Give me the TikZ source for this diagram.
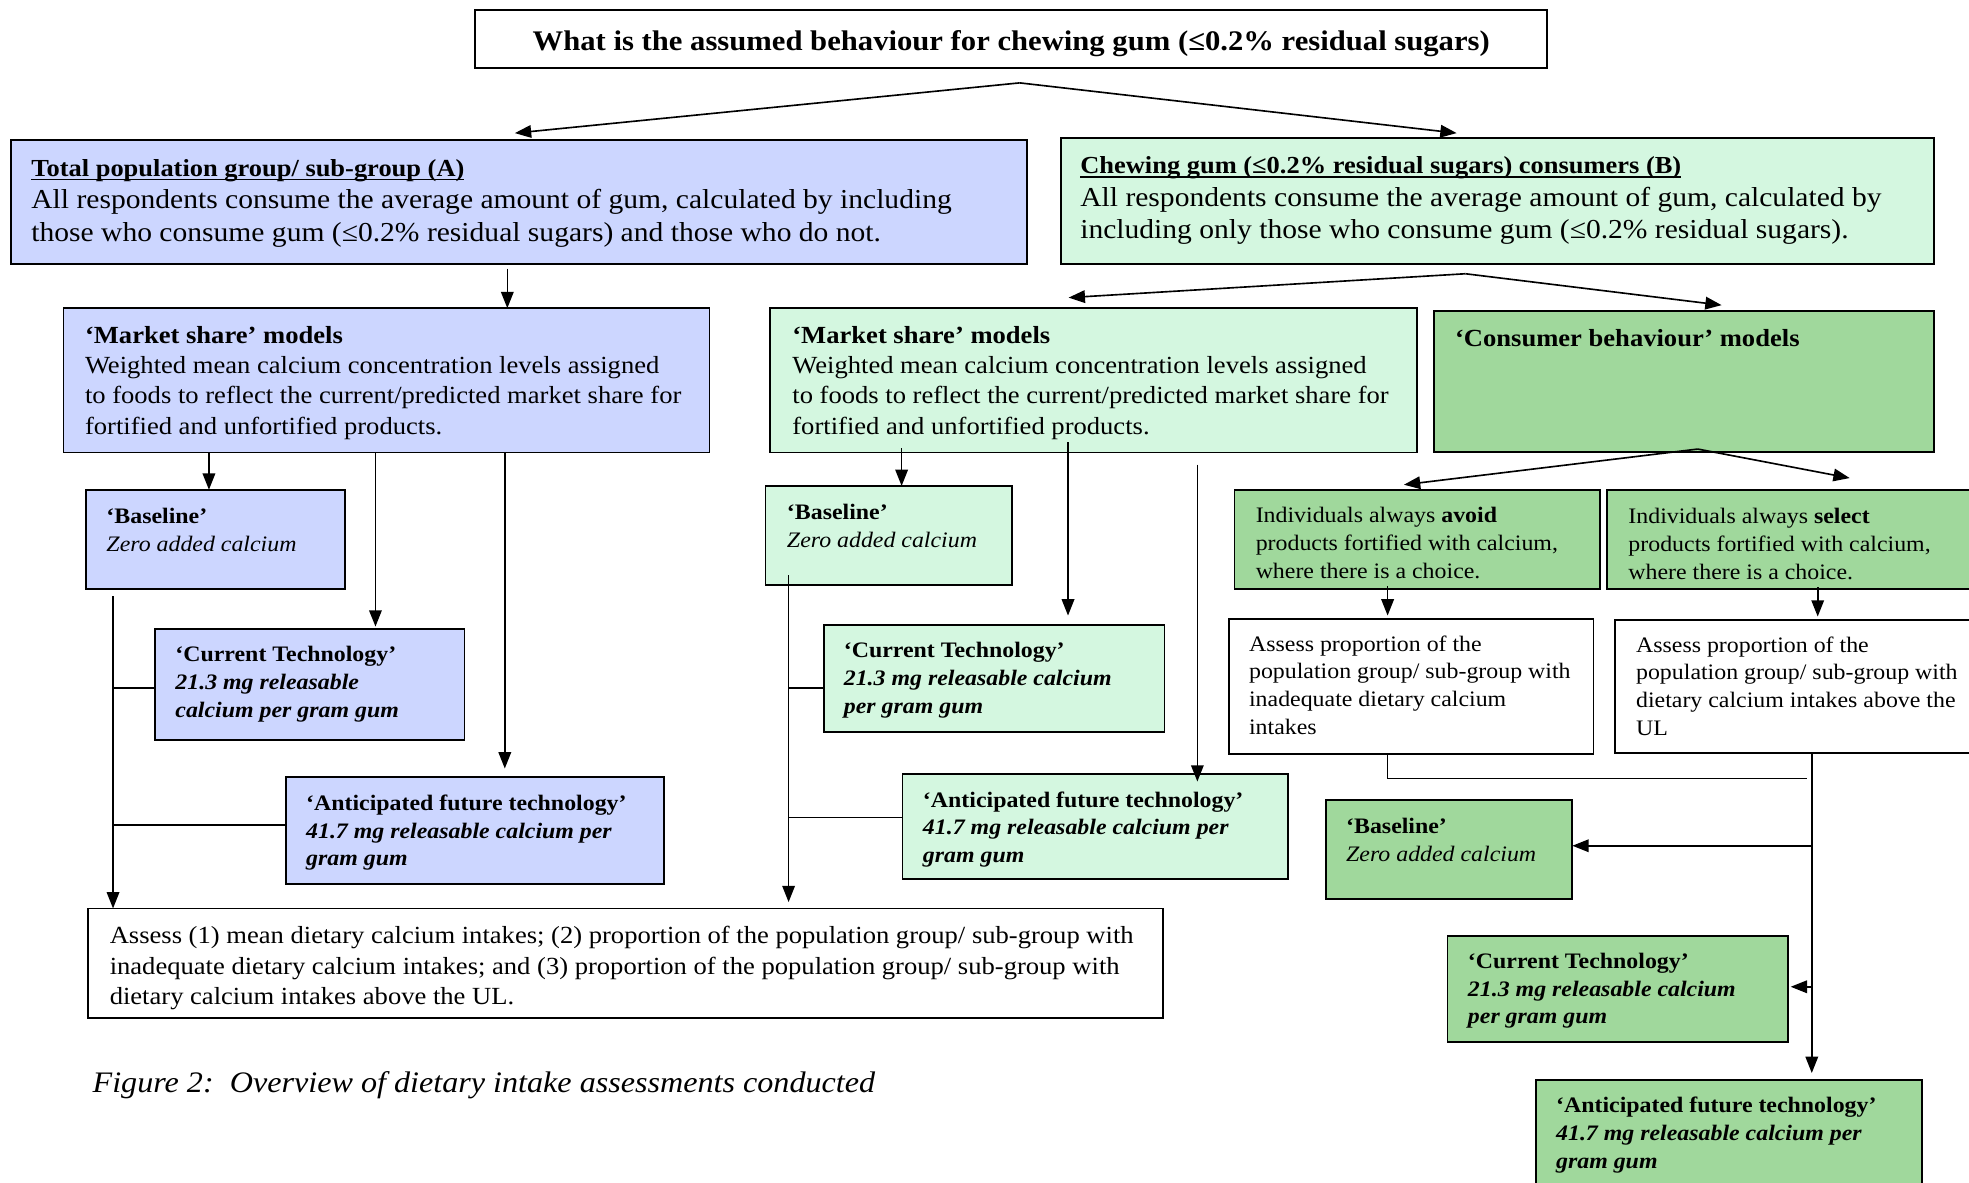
\documentclass[tikz,border=0pt]{standalone}
\usepackage{fontspec}
\setmainfont{Liberation Serif}[FakeStretch=1.08]
\usetikzlibrary{arrows.meta}
\definecolor{blueA}{RGB}{204,214,255}
\definecolor{greenL}{RGB}{212,247,224}
\definecolor{greenD}{RGB}{160,216,156}
\newsavebox\ulbox
\newcommand\myul[1]{\sbox\ulbox{#1}\rlap{\vrule width\wd\ulbox height -1.6pt depth 3pt}\usebox\ulbox}
\newcommand\fsz[2]{\fontsize{#1}{#2}\selectfont}
\newcommand\bi[1]{\textbf{\textit{#1}}}
\tikzset{
  bx/.style={draw=black, line width=1.4pt, rectangle, anchor=north west, inner sep=0pt, outer sep=0pt},
  tx/.style={anchor=north west, inner sep=0pt, outer sep=0pt, align=left},
  big/.style={font=\fsz{21.8}{25.7}},
  mid/.style={font=\fsz{19.6}{24}},
  sml/.style={font=\fsz{17.6}{22.1}},
  arr/.style={line width=1.3pt, -{Triangle[length=13pt,width=10pt]}},
  ln/.style={line width=1.3pt}
}
\begin{document}
\begin{tikzpicture}[x=1pt,y=-1pt]
\clip (0,0) rectangle (1568,942);
\fill[white] (0,0) rectangle (1568,942);

% ---------- boxes ----------
\node[bx, fill=white, minimum width=854pt, minimum height=46.4pt] (title) at (378,8) {};
\node[bx, fill=blueA, minimum width=809pt, minimum height=99pt] (A) at (9,111.5) {};
\node[bx, fill=greenL, minimum width=695pt, minimum height=100pt] (B) at (845,110) {};
\node[bx, fill=blueA, minimum width=514.5pt, minimum height=115pt] (msA) at (50.5,245.4) {};
\node[bx, fill=greenL, minimum width=515pt, minimum height=115pt] (msB) at (613.4,245.4) {};
\node[bx, fill=greenD, minimum width=398.2pt, minimum height=112.5pt] (cons) at (1141.8,247.7) {};
\node[bx, fill=blueA, minimum width=206.3pt, minimum height=79pt] (baseA) at (68.7,390) {};
\node[bx, fill=blueA, minimum width=246.4pt, minimum height=88pt] (curA) at (123.4,501) {};
\node[bx, fill=blueA, minimum width=301pt, minimum height=85pt] (antA) at (228,619) {};
\node[bx, fill=greenL, minimum width=196.4pt, minimum height=79pt] (baseB) at (609.6,387) {};
\node[bx, fill=greenL, minimum width=271.3pt, minimum height=85.3pt] (curB) at (656,497.7) {};
\node[bx, fill=greenL, minimum width=307pt, minimum height=83.3pt] (antB) at (718.7,616.4) {};
\node[bx, fill=greenD, minimum width=291pt, minimum height=79pt] (avoid) at (983,390) {};
\node[bx, fill=greenD, minimum width=300pt, minimum height=79.3pt] (select) at (1279.6,390) {};
\node[bx, fill=white, minimum width=290.4pt, minimum height=107.3pt] (as1) at (978.5,493.2) {};
\node[bx, fill=white, minimum width=300pt, minimum height=106pt] (as2) at (1285.8,493.5) {};
\node[bx, fill=greenD, minimum width=195.9pt, minimum height=79.1pt] (baseC) at (1056.2,637.1) {};
\node[bx, fill=greenD, minimum width=271.3pt, minimum height=84.9pt] (curC) at (1152.7,745.1) {};
\node[bx, fill=greenD, minimum width=307.2pt, minimum height=100pt] (antC) at (1223.4,860) {};
\node[bx, fill=white, minimum width=856pt, minimum height=87.1pt] (assM) at (70.1,723.4) {};

% ---------- texts ----------
\node[anchor=base, inner sep=0pt, font=\fsz{22.6}{26}\bfseries] (titleT) at (805.3,40) {What is the assumed behaviour for chewing gum (≤0.2\% residual sugars)};
\node[tx, big] (AT) at (25,127.2) {{\fsz{19.5}{25.7}\myul{\textbf{Total population group/ sub-group (A)}}}\\
All respondents consume the average amount of gum, calculated by including\\
those who consume gum (≤0.2\% residual sugars) and those who do not.};
\node[tx, big] (BT) at (860.3,125) {{\fsz{19.5}{25.7}\myul{\textbf{Chewing gum (≤0.2\% residual sugars) consumers (B)}}}\\
All respondents consume the average amount of gum, calculated by\\
including only those who consume gum (≤0.2\% residual sugars).};
\node[tx, mid] (msAT) at (67.7,260.1) {\textbf{‘Market share’ models}\\
Weighted mean calcium concentration levels assigned\\
to foods to reflect the current/predicted market share for\\
fortified and unfortified products.};
\node[tx, mid] (msBT) at (631,260.1) {\textbf{‘Market share’ models}\\
Weighted mean calcium concentration levels assigned\\
to foods to reflect the current/predicted market share for\\
fortified and unfortified products.};
\node[tx, mid] (consT) at (1158.7,262.6) {\textbf{‘Consumer behaviour’ models}};
\node[tx, sml] (baseAT) at (84.8,404.5) {\textbf{‘Baseline’}\\ \textit{Zero added calcium}};
\node[tx, sml] (curAT) at (139.7,514.9) {\textbf{‘Current Technology’}\\ \bi{21.3 mg releasable}\\ \bi{calcium per gram gum}};
\node[tx, sml] (antAT) at (243.8,632.9) {\textbf{‘Anticipated future technology’}\\ \bi{41.7 mg releasable calcium per}\\ \bi{gram gum}};
\node[tx, sml] (baseBT) at (626.7,401.5) {\textbf{‘Baseline’}\\ \textit{Zero added calcium}};
\node[tx, sml] (curBT) at (672,511.6) {\textbf{‘Current Technology’}\\ \bi{21.3 mg releasable calcium}\\ \bi{per gram gum}};
\node[tx, sml] (antBT) at (735,630.3) {\textbf{‘Anticipated future technology’}\\ \bi{41.7 mg releasable calcium per}\\ \bi{gram gum}};
\node[tx, sml] (avoidT) at (1000,403.9) {Individuals always \textbf{avoid}\\ products fortified with calcium,\\ where there is a choice.};
\node[tx, sml] (selectT) at (1296.8,404.7) {Individuals always \textbf{select}\\ products fortified with calcium,\\ where there is a choice.};
\node[tx, sml] (as1T) at (994.7,506.1) {Assess proportion of the\\ population group/ sub-group with\\ inadequate dietary calcium\\ intakes};
\node[tx, sml] (as2T) at (1302.9,506.9) {Assess proportion of the\\ population group/ sub-group with\\ dietary calcium intakes above the\\ UL};
\node[tx, sml] (baseCT) at (1072,651.4) {\textbf{‘Baseline’}\\ \textit{Zero added calcium}};
\node[tx, sml] (curCT) at (1169,758.9) {\textbf{‘Current Technology’}\\ \bi{21.3 mg releasable calcium}\\ \bi{per gram gum}};
\node[tx, sml] (antCT) at (1239.2,873.9) {\textbf{‘Anticipated future technology’}\\ \bi{41.7 mg releasable calcium per}\\ \bi{gram gum}};
\node[tx, font=\fsz{19.6}{24.2}] (assMT) at (87.4,737.7) {Assess (1) mean dietary calcium intakes; (2) proportion of the population group/ sub-group with\\
inadequate dietary calcium intakes; and (3) proportion of the population group/ sub-group with\\
dietary calcium intakes above the UL.};
\node[anchor=base west, inner sep=0pt, font=\fsz{23.7}{26}\itshape] (cap) at (73.6,870) {Figure 2:\ \ Overview of dietary intake assessments conducted};

% ---------- connectors ----------
\coordinate (s0) at (812,66);
\coordinate (tA) at (410,106);
\coordinate (tB) at (1160,106);
\draw[arr] (s0) -- (tA);
\draw[arr] (s0) -- (tB);

\coordinate (a1) at (404,214);
\draw[arr] (a1) -- (a1 |- msA.north);

\coordinate (s1) at (1167,218);
\coordinate (tm) at (851,237);
\coordinate (tc) at (1371,243);
\draw[arr] (s1) -- (tm);
\draw[arr] (s1) -- (tc);

% market share A
\coordinate (gA1) at (166.4,0);
\coordinate (gA2) at (299,0);
\coordinate (gA3) at (402,0);
\draw[arr] (gA1 |- msA.south) -- (gA1 |- baseA.north);
\draw[arr, shorten >=2pt] (gA2 |- msA.south) -- (gA2 |- curA.north);
\draw[arr, shorten >=7pt] (gA3 |- msA.south) -- (gA3 |- antA.north);
\coordinate (busA) at (90,475);
\draw[arr] (busA) -- (busA |- assM.north);
\coordinate (tA1) at (90,548);
\coordinate (tA2) at (90,657);
\draw[ln] (tA1) -- (tA1 -| curA.west);
\draw[ln] (tA2) -- (tA2 -| antA.west);

% market share B
\coordinate (gB1) at (718,357);
\coordinate (gB2) at (850.5,352);
\coordinate (gB3) at (953.5,370);
\draw[arr] (gB1) -- (gB1 |- baseB.north);
\draw[arr, shorten >=7.5pt] (gB2) -- (gB2 |- curB.north);
\draw[arr, shorten >=-6pt] (gB3) -- (gB3 |- antB.north);
\coordinate (busB) at (628,458);
\draw[arr, shorten >=5pt] (busB) -- (busB |- assM.north);
\coordinate (tB1) at (628,548);
\coordinate (tB2) at (628,651);
\draw[ln] (tB1) -- (tB1 -| curB.west);
\draw[ln] (tB2) -- (tB2 -| antB.west);

% consumer behaviour
\coordinate (s2) at (1352,357.6);
\coordinate (tAv) at (1118,386);
\coordinate (tSe) at (1473,380.7);
\draw[arr] (s2) -- (tAv);
\draw[arr] (s2) -- (tSe);
\coordinate (gC1) at (1105,467);
\coordinate (gC2) at (1447.5,467.5);
\draw[arr, shorten >=3pt] (gC1) -- (gC1 |- as1.north);
\draw[arr, shorten >=2.5pt] (gC2) -- (gC2 |- as2.north);
\coordinate (j1) at (1105,619.8);
\coordinate (j2) at (1438.6,619.8);
\draw[ln] (as1.south -| j1) -- (j1) -- (j2);
\coordinate (gC4) at (1442.8,0);
\draw[arr, shorten >=5.5pt] (gC4 |- as2.south) -- (gC4 |- antC.north);
\coordinate (bC) at (1442.8,673.5);
\draw[arr] (bC) -- (bC -| baseC.east);
\coordinate (cC) at (1442.8,785.8);
\draw[arr, shorten >=2pt] (cC) -- (cC -| curC.east);
\end{tikzpicture}
\end{document}
